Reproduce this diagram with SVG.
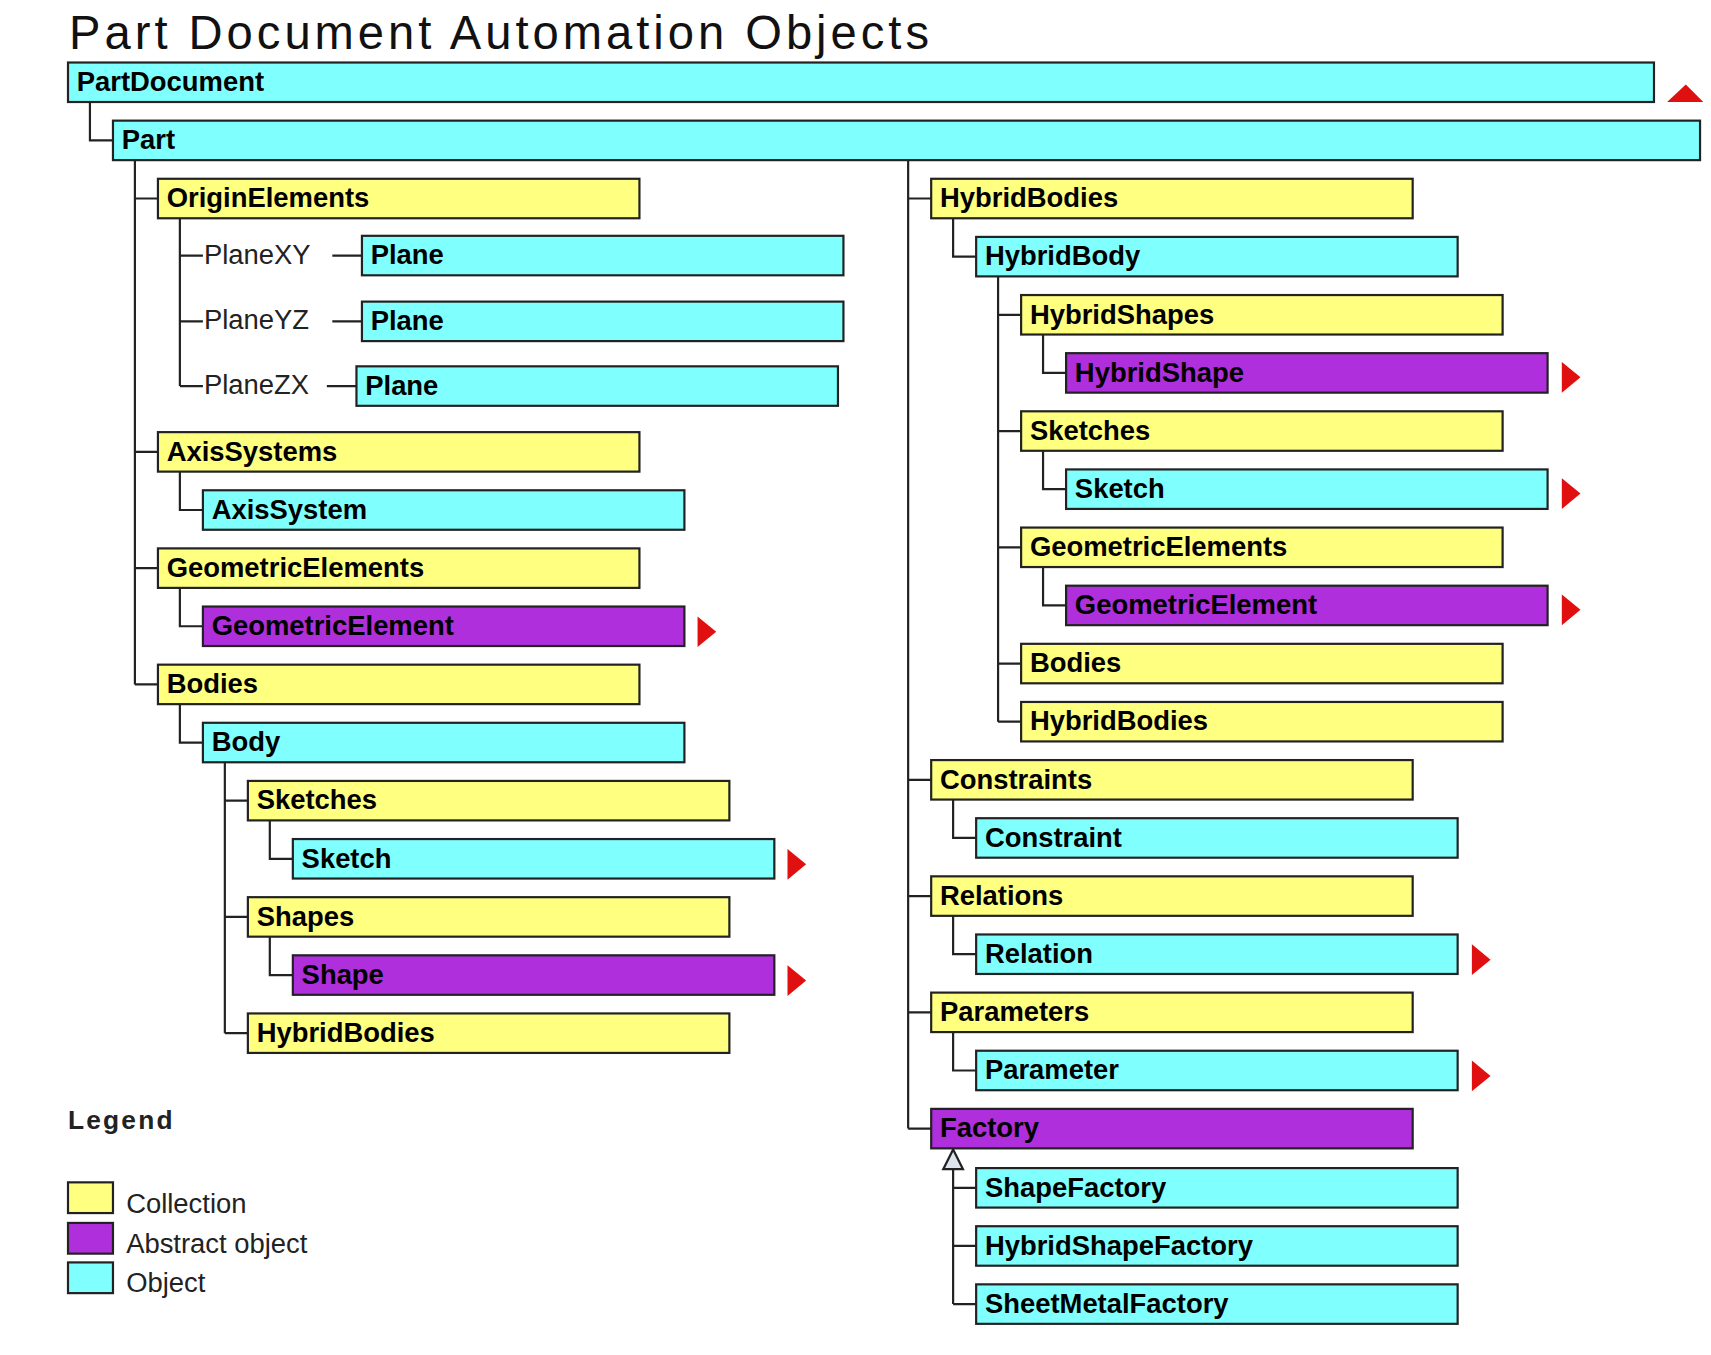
<svg xmlns="http://www.w3.org/2000/svg" width="1711" height="1355" viewBox="0 0 1711 1355">
<style>
.c{fill:#80ffff;stroke:#222;stroke-width:2}
.y{fill:#ffff80;stroke:#222;stroke-width:2}
.p{fill:#b02fdc;stroke:#222;stroke-width:2}
.t{font-family:"Liberation Sans",Arial,sans-serif;font-weight:bold;font-size:25px;fill:#000}
.n{font-family:"Liberation Sans",Arial,sans-serif;font-size:25px;fill:#222}
.l{fill:none;stroke:#222;stroke-width:2}
.r{fill:#e01010}
</style>
<rect width="1711" height="1355" fill="#fff"/>
<g transform="scale(1.0968)">
<text x="63" y="45" font-family="Liberation Sans,Arial,sans-serif" font-size="43" fill="#111" textLength="784">Part Document Automation Objects</text>
<g id="connectors" class="l">
<path d="M82 93V128H103"/>
<path d="M123 146V624M123 181H144M123 412H144M123 518H144M123 624H144"/>
<path d="M164 199V352M164 233H185M164 293H185M164 352H185M303 233H330M303 293H330M298 352H325"/>
<path d="M164 430V465H185M164 536V571H185M164 642V677H185"/>
<path d="M205 695V942M205 730H226M205 836H226M205 942H226"/>
<path d="M246 748V783H267M246 854V889H267"/>
<path d="M828 146V1029M828 181H849M828 711H849M828 817H849M828 923H849M828 1029H849"/>
<path d="M869 199V234H890M910 252V658M910 287H931M910 393H931M910 499H931M910 605H931M910 658H931"/>
<path d="M951 305V340H972M951 411V446H972M951 517V552H972"/>
<path d="M869 729V764H890M869 835V870H890M869 941V976H890"/>
<path d="M869 1066V1189M869 1083H890M869 1136H890M869 1189H890"/>
<path d="M869 1048L878 1066H860Z" fill="#dde4ee"/>
</g>
<g id="PartDocument"><rect class="c" x="62" y="57" width="1446" height="36"/><text class="t" x="70" y="83">PartDocument</text></g>
<g id="Part"><rect class="c" x="103" y="110" width="1447" height="36"/><text class="t" x="111" y="136">Part</text></g>
<g id="OriginElements"><rect class="y" x="144" y="163" width="439" height="36"/><text class="t" x="152" y="189">OriginElements</text></g>
<g id="PlaneXY"><text class="n" x="186" y="241">PlaneXY</text><rect class="c" x="330" y="215" width="439" height="36"/><text class="t" x="338" y="241">Plane</text></g>
<g id="PlaneYZ"><text class="n" x="186" y="300">PlaneYZ</text><rect class="c" x="330" y="275" width="439" height="36"/><text class="t" x="338" y="301">Plane</text></g>
<g id="PlaneZX"><text class="n" x="186" y="359">PlaneZX</text><rect class="c" x="325" y="334" width="439" height="36"/><text class="t" x="333" y="360">Plane</text></g>
<g id="AxisSystems"><rect class="y" x="144" y="394" width="439" height="36"/><text class="t" x="152" y="420">AxisSystems</text></g>
<g id="AxisSystem"><rect class="c" x="185" y="447" width="439" height="36"/><text class="t" x="193" y="473">AxisSystem</text></g>
<g id="GeometricElements"><rect class="y" x="144" y="500" width="439" height="36"/><text class="t" x="152" y="526">GeometricElements</text></g>
<g id="GeometricElement"><rect class="p" x="185" y="553" width="439" height="36"/><text class="t" x="193" y="579">GeometricElement</text><path class="r" d="M636 562L653 576L636 590Z"/></g>
<g id="Bodies"><rect class="y" x="144" y="606" width="439" height="36"/><text class="t" x="152" y="632">Bodies</text></g>
<g id="Body"><rect class="c" x="185" y="659" width="439" height="36"/><text class="t" x="193" y="685">Body</text></g>
<g id="Sketches"><rect class="y" x="226" y="712" width="439" height="36"/><text class="t" x="234" y="738">Sketches</text></g>
<g id="Sketch"><rect class="c" x="267" y="765" width="439" height="36"/><text class="t" x="275" y="791">Sketch</text><path class="r" d="M718 774L735 788L718 802Z"/></g>
<g id="Shapes"><rect class="y" x="226" y="818" width="439" height="36"/><text class="t" x="234" y="844">Shapes</text></g>
<g id="Shape"><rect class="p" x="267" y="871" width="439" height="36"/><text class="t" x="275" y="897">Shape</text><path class="r" d="M718 880L735 894L718 908Z"/></g>
<g id="BodyHybridBodies"><rect class="y" x="226" y="924" width="439" height="36"/><text class="t" x="234" y="950">HybridBodies</text></g>
<g id="HybridBodies"><rect class="y" x="849" y="163" width="439" height="36"/><text class="t" x="857" y="189">HybridBodies</text></g>
<g id="HybridBody"><rect class="c" x="890" y="216" width="439" height="36"/><text class="t" x="898" y="242">HybridBody</text></g>
<g id="HybridShapes"><rect class="y" x="931" y="269" width="439" height="36"/><text class="t" x="939" y="295">HybridShapes</text></g>
<g id="HybridShape"><rect class="p" x="972" y="322" width="439" height="36"/><text class="t" x="980" y="348">HybridShape</text><path class="r" d="M1424 330L1441 344L1424 358Z"/></g>
<g id="HBSketches"><rect class="y" x="931" y="375" width="439" height="36"/><text class="t" x="939" y="401">Sketches</text></g>
<g id="HBSketch"><rect class="c" x="972" y="428" width="439" height="36"/><text class="t" x="980" y="454">Sketch</text><path class="r" d="M1424 436L1441 450L1424 464Z"/></g>
<g id="HBGeometricElements"><rect class="y" x="931" y="481" width="439" height="36"/><text class="t" x="939" y="507">GeometricElements</text></g>
<g id="HBGeometricElement"><rect class="p" x="972" y="534" width="439" height="36"/><text class="t" x="980" y="560">GeometricElement</text><path class="r" d="M1424 542L1441 556L1424 570Z"/></g>
<g id="HBBodies"><rect class="y" x="931" y="587" width="439" height="36"/><text class="t" x="939" y="613">Bodies</text></g>
<g id="HBHybridBodies"><rect class="y" x="931" y="640" width="439" height="36"/><text class="t" x="939" y="666">HybridBodies</text></g>
<g id="Constraints"><rect class="y" x="849" y="693" width="439" height="36"/><text class="t" x="857" y="719">Constraints</text></g>
<g id="Constraint"><rect class="c" x="890" y="746" width="439" height="36"/><text class="t" x="898" y="772">Constraint</text></g>
<g id="Relations"><rect class="y" x="849" y="799" width="439" height="36"/><text class="t" x="857" y="825">Relations</text></g>
<g id="Relation"><rect class="c" x="890" y="852" width="439" height="36"/><text class="t" x="898" y="878">Relation</text><path class="r" d="M1342 861L1359 875L1342 889Z"/></g>
<g id="Parameters"><rect class="y" x="849" y="905" width="439" height="36"/><text class="t" x="857" y="931">Parameters</text></g>
<g id="Parameter"><rect class="c" x="890" y="958" width="439" height="36"/><text class="t" x="898" y="984">Parameter</text><path class="r" d="M1342 967L1359 981L1342 995Z"/></g>
<g id="Factory"><rect class="p" x="849" y="1011" width="439" height="36"/><text class="t" x="857" y="1037">Factory</text></g>
<g id="ShapeFactory"><rect class="c" x="890" y="1065" width="439" height="36"/><text class="t" x="898" y="1091">ShapeFactory</text></g>
<g id="HybridShapeFactory"><rect class="c" x="890" y="1118" width="439" height="36"/><text class="t" x="898" y="1144">HybridShapeFactory</text></g>
<g id="SheetMetalFactory"><rect class="c" x="890" y="1171" width="439" height="36"/><text class="t" x="898" y="1197">SheetMetalFactory</text></g>
<path class="r" d="M1520 93L1537 77L1553 93Z"/>
<g id="legend">
<text x="62" y="1029" font-family="Liberation Sans,Arial,sans-serif" font-weight="bold" font-size="24" letter-spacing="2" fill="#222">Legend</text>
<rect class="y" x="62" y="1078" width="41" height="28"/><text class="n" x="115" y="1106" font-size="26">Collection</text>
<rect class="p" x="62" y="1115" width="41" height="28"/><text class="n" x="115" y="1142" font-size="26">Abstract object</text>
<rect class="c" x="62" y="1151" width="41" height="28"/><text class="n" x="115" y="1178" font-size="26">Object</text>
</g>
</g>
</svg>
